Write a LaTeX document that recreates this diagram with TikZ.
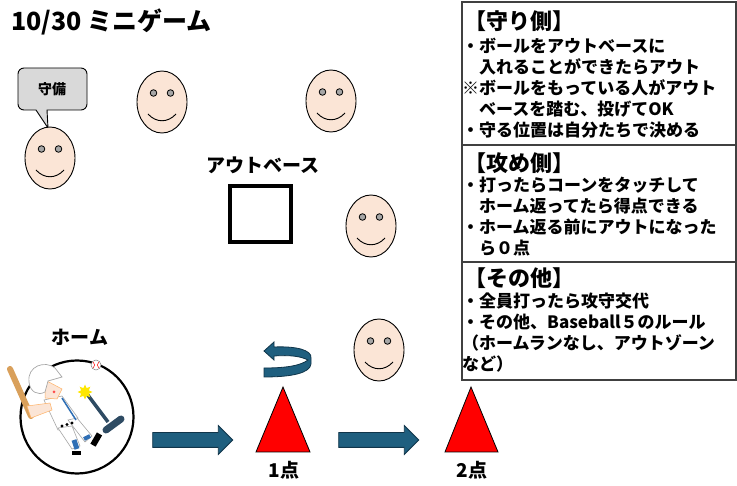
\documentclass[tikz,border=0pt]{standalone}
\usepackage{fontspec}
\setmainfont{Noto Sans CJK JP}
\usetikzlibrary{shapes.geometric,shapes.arrows}
\definecolor{skin}{HTML}{FBE5D6}
\definecolor{eyegray}{HTML}{A6A6A6}
\definecolor{bubblegray}{HTML}{D9D9D9}
\definecolor{arrowblue}{HTML}{1F5F7F}
\definecolor{arrowdark}{HTML}{10354A}
\definecolor{framegray}{HTML}{404040}
\definecolor{batbrown}{HTML}{D9A05B}
\definecolor{teenavy}{HTML}{2E4B63}
\definecolor{sockblue}{HTML}{2F6FB5}
\begin{document}
\begin{tikzpicture}[x=1pt,y=-1pt,
  face/.style={ellipse,draw,fill=skin,line width=0.9,minimum width=50,minimum height=62,inner sep=0},
  label/.style={font=\bfseries\fontsize{19}{22}\selectfont,inner sep=0},
  heading/.style={font=\bfseries\fontsize{22}{24}\selectfont,anchor=west,inner sep=0},
  rules/.style={font=\bfseries\fontsize{17}{21}\selectfont,anchor=north west,align=left,inner sep=0},
  blockarrow/.style={single arrow,draw=arrowdark,fill=arrowblue,line width=0.8,minimum height=80,single arrow head extend=7,inner xsep=0,inner ysep=7},
  cone/.style={draw,fill=red,line width=0.8}]
\useasboundingbox (0,0) rectangle (737,486);

\node[font=\bfseries\fontsize{25}{28}\selectfont,anchor=west,inner sep=0] (title) at (11,22) {10/30 ミニゲーム};

\draw[framegray,line width=1.4] (462,2) rectangle (736,380);
\draw[framegray,line width=1.4] (462,145) -- (736,145);
\draw[framegray,line width=1.4] (462,262) -- (736,262);
\node[heading] (defHead) at (464,21) {【守り側】};
\node[rules] (defText) at (462,38) {・ボールをアウトベースに\\　入れることができたらアウト\\※ボールをもっている人がアウト\\　ベースを踏む、投げてOK\\・守る位置は自分たちで決める};
\node[heading] (atkHead) at (464,163) {【攻め側】};
\node[rules] (atkText) at (462,177) {・打ったらコーンをタッチして\\　ホーム返ってたら得点できる\\・ホーム返る前にアウトになった\\　ら０点};
\node[heading] (etcHead) at (464,278) {【その他】};
\node[rules] (etcText) at (462,293) {・全員打ったら攻守交代\\・その他、Baseball５のルール\\（ホームランなし、アウトゾーン\\など）};

\draw[fill=bubblegray,line width=0.9] (18,68) [rounded corners=6] -- (87,68) -- (87,110) [sharp corners] -- (47,110) -- (48,128) -- (36,110) [rounded corners=6] -- (18,110) -- cycle;
\node[font=\bfseries\fontsize{14}{16}\selectfont,inner sep=0] (bubble) at (52,89) {守備};

\foreach \n/\x/\y in {1/50/158,2/162/102,3/331/101,4/371/226,5/379/350}{
  \node[face] (face\n) at (\x,\y) {};
  \draw[fill=eyegray,line width=0.8] (\x-8.5,\y-9) circle [radius=3.3];
  \draw[fill=eyegray,line width=0.8] (\x+8.5,\y-9) circle [radius=3.3];
  \draw[line width=0.9] (\x-14,\y+12) .. controls (\x-6,\y+21) and (\x+6,\y+21) .. (\x+14,\y+12);
}

\node[label] (outLabel) at (263,165) {アウトベース};
\draw[line width=4] (230,186) rectangle (291,242);

\node[label] (homeLabel) at (80,337) {ホーム};
\node[circle,draw,line width=2.2,minimum size=113,inner sep=0] (home) at (77,417) {};
% batter on the tee
\draw[teenavy,line width=3.5] (87,394) -- (108,422);
\draw[teenavy,line width=7,line cap=round] (106,430) -- (121,419);
\node[star,star points=8,star point ratio=1.8,fill=yellow!90!orange,minimum size=15,inner sep=0] (tee) at (85,392) {};
\node[circle,draw=gray,fill=white,line width=0.5,minimum size=10,inner sep=0] (ball) at (96,365) {};
\draw[red,line width=0.5] (93,362) .. controls (95,365) .. (93,368) (99,362) .. controls (97,365) .. (99,368);
\draw[batbrown,line width=6,line cap=round] (10,369) -- (31,416);
\draw[fill=white,draw=gray!70,line width=0.6] (44,400) -- (62,396) -- (78,418) -- (75,428) -- (58,430) -- cycle;
\draw[fill=white,draw=gray!70,line width=0.6] (58,428) -- (72,426) -- (80,446) -- (72,449) -- cycle;
\draw[fill=white,draw=gray!70,line width=0.6] (68,420) -- (77,418) -- (92,436) -- (85,442) -- cycle;
\draw[sockblue,line width=5] (74,440) -- (77,449);
\draw[sockblue,line width=4] (84,439) -- (90,436);
\fill (72,451) rectangle (81,455);
\fill[rotate around={-30:(96,440)}] (93,433) rectangle (99,446);
\draw[sockblue,line width=1.5] (62,398) -- (76,420);
\foreach \k in {0,1,2}{\fill (62+5*\k,426-1.5*\k) circle [radius=1.6];}
\draw[fill=skin,draw=orange!60,line width=0.5] (27,406) -- (50,403) -- (52,410) -- (31,418) -- cycle;
\draw[fill=skin,draw=orange!60,line width=0.5] (45,380) -- (62,389) -- (57,399) -- (45,398) -- cycle;
\draw[fill=white,draw=gray!70,line width=0.7] (29,382) .. controls (27,366) and (45,360) .. (55,368) -- (62,377) -- (48,381) -- (45,392) .. controls (38,396) and (30,392) .. (29,382) -- cycle;
\fill[red!70] (54,392) circle [radius=1.5];

\node[blockarrow] (arrow1) at (189,440) {};
\node[blockarrow] (arrow2) at (375,440) {};

\draw[cone] (283,387) -- (310,452) -- (256,452) -- cycle;
\draw[cone] (471,387) -- (498,452) -- (445,452) -- cycle;
\node[label] (point1) at (284,470) {1点};
\node[label] (point2) at (472,470) {2点};

\draw[fill=arrowblue,draw=arrowdark,line width=0.8] (264,351) -- (274,342) -- (274,347) .. controls (296,346) and (312,350) .. (311,358) -- (311,364) .. controls (310,373) and (292,377) .. (264,377) -- (264,368) .. controls (285,368) and (300,366) .. (308,360) .. controls (300,356) and (290,355) .. (274,356) -- (274,360) -- cycle;
\end{tikzpicture}
\end{document}
